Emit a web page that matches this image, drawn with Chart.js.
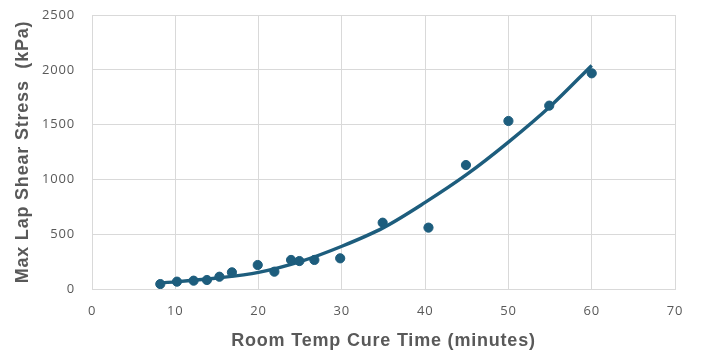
<!DOCTYPE html>
<html>
<head>
<meta charset="utf-8">
<script src="https://cdn.jsdelivr.net/npm/chart.js@4"></script>
<style>
  html, body { margin: 0; padding: 0; background: #fff; }
  #wrap { width: 701px; height: 352px; }
</style>
</head>
<body>
<div id="wrap"><canvas id="cureChart" width="701" height="352"></canvas></div>
<script>
// measured points (minutes, kPa)
const cureTimes = [8.2, 10.2, 12.2, 13.8, 15.3, 16.8, 19.9, 21.9, 23.9, 24.9, 26.7, 29.8, 34.9, 40.4, 44.9, 50.0, 54.9, 60.0];
const shearStress = [45, 67, 76, 82, 112, 152, 219, 158, 265, 255, 265, 280, 605, 560, 1131, 1533, 1673, 1968];

// trend line
const trendTimes = [8, 10, 15, 20, 25, 30, 35, 40, 45, 50, 55, 60];
const trendStress = [55, 65, 100, 152, 250, 390, 560, 790, 1045, 1340, 1665, 2040];

const xTicks = [0, 10, 20, 30, 40, 50, 60, 70];
const yTicks = [0, 500, 1000, 1500, 2000, 2500];

const BLUE = '#1d5d7d';
const GREY_TXT = '#595959';
const GRID = '#d9d9d9';

// spacing a bit wider, like the original text
const espaciado = {
    id: 'espaciado',
    beforeDraw(chart) { chart.ctx.letterSpacing = '0.8px'; },
    afterDraw(chart) { chart.ctx.letterSpacing = '0px'; }
};

document.addEventListener('DOMContentLoaded', function () {
    const ctx = document.getElementById('cureChart').getContext('2d');

    const puntos = cureTimes.map((t, i) => ({ x: t, y: shearStress[i] }));
    const tendencia = trendTimes.map((t, i) => ({ x: t, y: trendStress[i] }));

    new Chart(ctx, {
        type: 'scatter',
        data: {
            datasets: [
                {
                    label: 'Trend',
                    data: tendencia,
                    showLine: true,
                    borderColor: BLUE,
                    borderWidth: 3.4,
                    pointRadius: 0,
                    cubicInterpolationMode: 'monotone',
                    order: 2
                },
                {
                    label: 'Lap shear',
                    data: puntos,
                    backgroundColor: BLUE,
                    borderColor: BLUE,
                    pointRadius: 4.6,
                    order: 1
                }
            ]
        },
        plugins: [espaciado],
        options: {
            responsive: false,
            animation: false,
            layout: { padding: { top: 15, right: 26, left: 0, bottom: 0 } },
            plugins: {
                legend: { display: false },
                tooltip: { enabled: false }
            },
            scales: {
                x: {
                    type: 'linear',
                    min: 0,
                    max: 70,
                    afterBuildTicks: (axis) => { axis.ticks = xTicks.map(v => ({ value: v })); },
                    afterFit: (axis) => { axis.height = 63; },
                    grid: { color: GRID, lineWidth: 1, drawTicks: false },
                    border: { color: GRID, width: 1 },
                    ticks: {
                        color: GREY_TXT,
                        padding: 14,
                        callback: (v) => String(v),
                        font: { family: 'Open Sans', size: 13 }
                    },
                    title: {
                        display: true,
                        text: 'Room Temp Cure Time (minutes)',
                        color: GREY_TXT,
                        padding: { top: 3, bottom: 0 },
                        font: { family: 'Liberation Sans', size: 18, weight: 'bold' }
                    }
                },
                y: {
                    min: 0,
                    max: 2500,
                    afterBuildTicks: (axis) => { axis.ticks = yTicks.map(v => ({ value: v })); },
                    afterFit: (axis) => {
                        axis.width = 92;
                        axis.paddingTop = 0;
                        axis.paddingBottom = 0;
                    },
                    grid: { color: GRID, lineWidth: 1, drawTicks: false },
                    border: { color: GRID, width: 1 },
                    ticks: {
                        color: GREY_TXT,
                        padding: 17,
                        callback: (v) => String(v),
                        font: { family: 'Open Sans', size: 13 }
                    },
                    title: {
                        display: true,
                        text: 'Max Lap Shear Stress  (kPa)',
                        color: GREY_TXT,
                        padding: { top: 12, bottom: 0 },
                        font: { family: 'Liberation Sans', size: 18, weight: 'bold' }
                    }
                }
            }
        }
    });
});
</script>
</body>
</html>
